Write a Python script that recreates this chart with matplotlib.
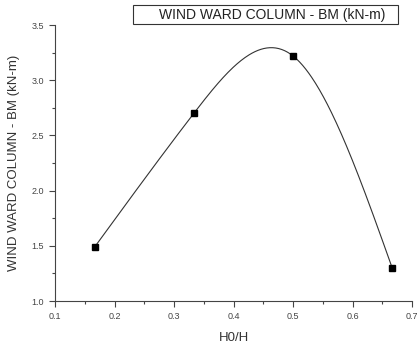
import numpy as np
import matplotlib
matplotlib.use('Agg')
import matplotlib.pyplot as plt
from matplotlib.patches import Rectangle
from matplotlib.ticker import MultipleLocator

# data
h_ratio = [0.1667, 0.3333, 0.5, 0.6667]
bm = [1.49, 2.70, 3.22, 1.30]
series_name = 'WIND WARD COLUMN - BM (kN-m)'
x_label = 'H0/H'
y_label = 'WIND WARD COLUMN - BM (kN-m)'


def natural_spline(xs, ys, n=300):
    # natural cubic spline, used only to draw the smooth connecting line
    xs = np.asarray(xs, float)
    ys = np.asarray(ys, float)
    k = len(xs)
    h = np.diff(xs)
    A = np.zeros((k, k))
    b = np.zeros(k)
    A[0, 0] = A[-1, -1] = 1
    for i in range(1, k - 1):
        A[i, i - 1] = h[i - 1]
        A[i, i] = 2 * (h[i - 1] + h[i])
        A[i, i + 1] = h[i]
        b[i] = 6 * ((ys[i + 1] - ys[i]) / h[i] - (ys[i] - ys[i - 1]) / h[i - 1])
    m = np.linalg.solve(A, b)
    xx = np.linspace(xs[0], xs[-1], n)
    idx = np.clip(np.searchsorted(xs, xx) - 1, 0, k - 2)
    x0, x1 = xs[idx], xs[idx + 1]
    hh = x1 - x0
    t0, t1 = x1 - xx, xx - x0
    yy = (m[idx] * t0 ** 3 + m[idx + 1] * t1 ** 3) / (6 * hh) \
        + (ys[idx] / hh - m[idx] * hh / 6) * t0 \
        + (ys[idx + 1] / hh - m[idx + 1] * hh / 6) * t1
    return xx, yy


plt.rcParams['font.family'] = ['Liberation Sans', 'DejaVu Sans']

fig = plt.figure(figsize=(4.17, 3.45), dpi=100)
ax = fig.add_axes([0.132, 0.1275, 0.856, 0.80])

sx, sy = natural_spline(h_ratio, bm)
ax.plot(sx, sy, color='#333333', lw=0.8)
ax.plot(h_ratio, bm, ls='none', marker='s', ms=5, color='black')

ax.set_xlim(0.1, 0.7)
ax.set_ylim(1.0, 3.5)
ax.xaxis.set_major_locator(MultipleLocator(0.1))
ax.xaxis.set_minor_locator(MultipleLocator(0.05))
ax.yaxis.set_major_locator(MultipleLocator(0.5))
ax.yaxis.set_minor_locator(MultipleLocator(0.25))
ax.set_xticklabels([f'{v:.1f}' for v in ax.get_xticks()])
ax.set_yticklabels([f'{v:.1f}' for v in ax.get_yticks()])

for s in ['top', 'right']:
    ax.spines[s].set_visible(False)
for s in ['left', 'bottom']:
    ax.spines[s].set_color('#444444')
    ax.spines[s].set_linewidth(0.8)
ax.tick_params(which='major', length=4, width=0.8, color='#444444',
               labelsize=6.5, labelcolor='#444444', pad=4)
ax.tick_params(which='minor', length=2.5, width=0.8, color='#444444')

ax.set_xlabel(x_label, fontsize=9.5, color='#333333', labelpad=8)
ax.set_ylabel(y_label, fontsize=9.5, color='#333333', labelpad=8)

# legend box (no visible handle, just the series name)
fig.add_artist(Rectangle((0.319, 0.930), 0.635, 0.055, transform=fig.transFigure,
                         fc='white', ec='#333333', lw=0.8))
fig.text(0.653, 0.957, series_name, fontsize=10, color='#222222',
         ha='center', va='center')

fig.savefig('out.png', dpi=100)
